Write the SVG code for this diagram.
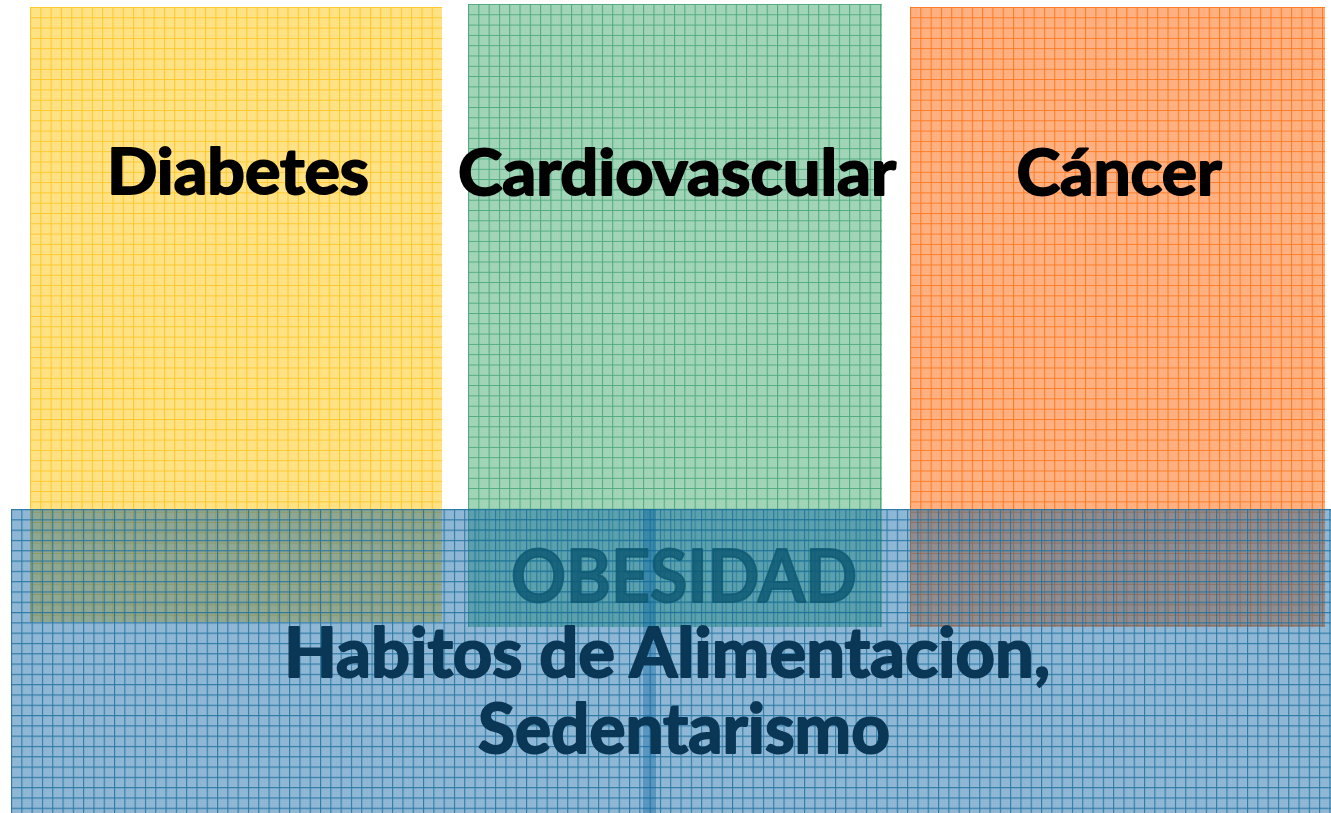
<svg xmlns="http://www.w3.org/2000/svg" width="1331" height="813" viewBox="0 0 1331 813">
<style>
.lbl{font-family:Lato,"Open Sans","DejaVu Sans",sans-serif;font-weight:bold;stroke-linejoin:round;}
.top{fill:#000;stroke:#000;stroke-width:2;font-size:64px;}
.mid{fill:#0f5a74;stroke:#0f5a74;stroke-width:2;font-size:73px;fill-opacity:0.85;stroke-opacity:0.85;}
.bot{fill:#0b3756;stroke:#0b3756;stroke-width:2;font-size:68px;}
</style>
<defs>
<pattern id="pY" patternUnits="userSpaceOnUse" x="30" y="7" width="10.3" height="10.3">
<rect width="10.3" height="10.3" fill="#ffe48c"/>
<path d="M2.06 0V10.3M4.12 0V10.3M6.18 0V10.3M8.24 0V10.3M0 2.06H10.3M0 4.12H10.3M0 6.18H10.3M0 8.24H10.3" stroke="#ffd24a" stroke-width="0.5" opacity="0.3"/>
<path d="M0.5 0V10.3M0 0.5H10.3" stroke="#ffc82a" stroke-width="1.1"/>
</pattern>
<pattern id="pG" patternUnits="userSpaceOnUse" x="468" y="4" width="10.3" height="10.3">
<rect width="10.3" height="10.3" fill="#a6d7bb"/>
<path d="M2.06 0V10.3M4.12 0V10.3M6.18 0V10.3M8.24 0V10.3M0 2.06H10.3M0 4.12H10.3M0 6.18H10.3M0 8.24H10.3" stroke="#7cc29c" stroke-width="0.5" opacity="0.3"/>
<path d="M0.5 0V10.3M0 0.5H10.3" stroke="#4faa7f" stroke-width="1.1"/>
</pattern>
<pattern id="pO" patternUnits="userSpaceOnUse" x="910" y="7" width="10.3" height="10.3">
<rect width="10.3" height="10.3" fill="#ffb487"/>
<path d="M2.06 0V10.3M4.12 0V10.3M6.18 0V10.3M8.24 0V10.3M0 2.06H10.3M0 4.12H10.3M0 6.18H10.3M0 8.24H10.3" stroke="#ff9350" stroke-width="0.5" opacity="0.3"/>
<path d="M0.5 0V10.3M0 0.5H10.3" stroke="#ff7a22" stroke-width="1.1"/>
</pattern>
<pattern id="pB" patternUnits="userSpaceOnUse" x="11" y="509" width="10.3" height="10.3">
<rect width="10.3" height="10.3" fill="#005aa0" fill-opacity="0.42"/>
<path d="M2.06 0V10.3M4.12 0V10.3M6.18 0V10.3M8.24 0V10.3M0 2.06H10.3M0 4.12H10.3M0 6.18H10.3M0 8.24H10.3" stroke="#3a8ab8" stroke-width="0.5" opacity="0.15"/>
<path d="M0.5 0V10.3M0 0.5H10.3" stroke="#1c6e9e" stroke-width="1.2" opacity="0.85"/>
</pattern>
</defs>
<rect width="1331" height="813" fill="#ffffff"/>
<g id="diabetes">
<rect x="30" y="7" width="412" height="615" fill="url(#pY)"/>
<text class="lbl top" x="238" y="194" text-anchor="middle" textLength="262" lengthAdjust="spacingAndGlyphs">Diabetes</text>
</g>
<g id="cardiovascular">
<rect x="468" y="4" width="414" height="623" fill="url(#pG)"/>
<text class="lbl top" x="677" y="195" text-anchor="middle" textLength="438" lengthAdjust="spacingAndGlyphs">Cardiovascular</text>
</g>
<g id="cancer">
<rect x="910" y="7" width="415" height="620" fill="url(#pO)"/>
<text class="lbl top" x="1119" y="195" text-anchor="middle" textLength="205" lengthAdjust="spacingAndGlyphs">Cáncer</text>
</g>
<g id="obesidad">
<rect x="11" y="509" width="1320" height="304" fill="url(#pB)"/>
<rect x="643" y="509" width="13" height="304" fill="#0a64a0" fill-opacity="0.4"/>
<text class="lbl mid" x="684" y="602" text-anchor="middle" textLength="346" lengthAdjust="spacingAndGlyphs">OBESIDAD</text>
<text class="lbl bot" x="667" y="677" text-anchor="middle" textLength="766" lengthAdjust="spacingAndGlyphs">Habitos de Alimentacion,</text>
<text class="lbl bot" x="684" y="753" text-anchor="middle" textLength="412" lengthAdjust="spacingAndGlyphs">Sedentarismo</text>
</g>
<g id="connectors"/>
</svg>
